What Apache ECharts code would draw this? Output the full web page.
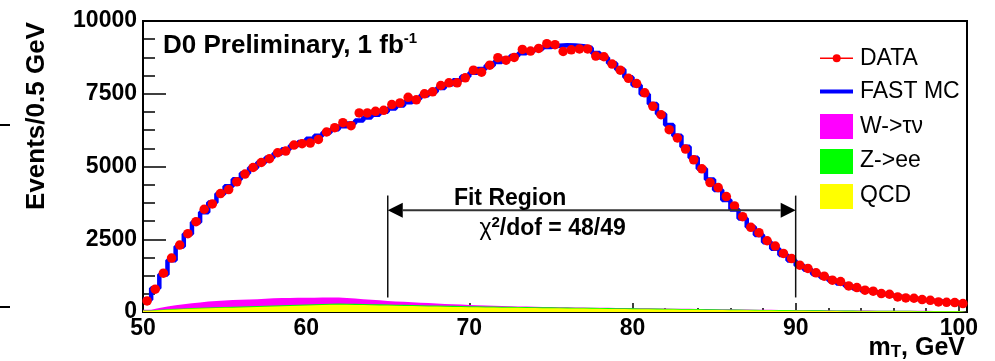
<!DOCTYPE html>
<html>
<head>
<meta charset="utf-8">
<script src="https://cdn.jsdelivr.net/npm/echarts@6/dist/echarts.min.js"></script>
<style>
  html, body { margin: 0; padding: 0; background: #fff; }
  #c { width: 995px; height: 361px; }
</style>
</head>
<body>
<div id="c"></div>
<script>
// Transverse-mass histogram, 0.5 GeV bins from 50 to 100.5 GeV
const binLow = 50;
const binWidth = 0.5;

// Observed events per bin
const dataCounts = [
  379, 783, 1334, 1852, 2300, 2690, 3103, 3531, 3714, 4069,
  4207, 4472, 4738, 4966, 5138, 5266, 5472, 5531, 5738, 5783,
  5807, 5931, 6186, 6334, 6507, 6403, 6841, 6841, 6897, 6931,
  7128, 7186, 7379, 7290, 7497, 7566, 7783, 7876, 7876, 8048,
  8310, 8241, 8483, 8738, 8655, 8748, 9024, 8966, 9059, 9221,
  9185, 8955, 9010, 9040, 9040, 8793, 8772, 8520, 8310, 8030,
  7852, 7531, 7069, 6778, 6266, 5979, 5600, 5231, 4921, 4448,
  4276, 3966, 3645, 3276, 2910, 2724, 2448, 2266, 2014, 1835,
  1610, 1497, 1345, 1231, 1093, 1048, 897, 841, 748, 714,
  634, 610, 517, 483, 472, 428, 403, 345, 334, 324,
  290
];

// Fast simulation prediction per bin
const fastMC = [
  420, 820, 1290, 1780, 2250, 2680, 3080, 3430, 3760, 4060,
  4320, 4560, 4770, 4960, 5140, 5300, 5450, 5590, 5720, 5840,
  5950, 6060, 6170, 6280, 6380, 6480, 6580, 6680, 6780, 6880,
  6990, 7100, 7210, 7330, 7450, 7570, 7700, 7830, 7960, 8090,
  8220, 8350, 8470, 8590, 8700, 8800, 8890, 8970, 9040, 9110,
  9150, 9170, 9160, 9130, 9070, 8900, 8740, 8550, 8330, 8070,
  7790, 7480, 7150, 6800, 6430, 6060, 5680, 5300, 4920, 4550,
  4190, 3850, 3520, 3210, 2920, 2650, 2400, 2170, 1960, 1770,
  1600, 1450, 1310, 1190, 1080, 980, 890, 810, 740, 680,
  620, 570, 525, 485, 450, 415, 385, 360, 335, 315,
  295
];

// Backgrounds (stacked: QCD at the bottom, then Z->ee, then W->tau nu)
const qcd = [
  45, 60, 75, 90, 100, 110, 118, 126, 134, 142,
  150, 158, 166, 174, 182, 190, 198, 206, 214, 222,
  230, 238, 246, 250, 248, 244, 238, 232, 226, 220,
  214, 208, 202, 196, 190, 185, 180, 175, 170, 166,
  162, 158, 154, 150, 146, 142, 138, 134, 131, 128,
  125, 122, 119, 116, 113, 110, 107, 104, 101, 98,
  95, 92, 89, 86, 83, 80, 77, 74, 71, 68,
  65, 62, 59, 56, 53, 50, 48, 46, 44, 42,
  40, 38, 36, 34, 32, 30, 29, 28, 27, 26,
  25, 24, 23, 22, 21, 20, 19, 18, 17, 16,
  15
];
const zee = [
  10, 15, 20, 22, 24, 25, 26, 27, 28, 28,
  29, 30, 30, 31, 32, 32, 33, 34, 35, 35,
  36, 37, 38, 38, 38, 38, 38, 38, 38, 38,
  38, 37, 37, 37, 37, 36, 36, 36, 36, 35,
  35, 35, 34, 34, 34, 33, 33, 33, 32, 32,
  32, 31, 31, 31, 30, 30, 30, 29, 29, 29,
  28, 28, 28, 27, 27, 27, 26, 26, 26, 25,
  25, 25, 24, 24, 24, 23, 23, 23, 22, 22,
  22, 21, 21, 21, 20, 20, 20, 19, 19, 19,
  18, 18, 18, 17, 17, 17, 16, 16, 16, 15,
  15
];
const wTauNu = [
  25, 65, 95, 118, 146, 165, 186, 207, 218, 225,
  231, 232, 234, 235, 241, 248, 249, 245, 239, 233,
  226, 220, 213, 207, 194, 178, 164, 150, 136, 122,
  113, 105, 96, 87, 78, 69, 62, 55, 49, 42,
  35, 29, 25, 21, 18, 16, 14, 12, 11, 10,
  9, 9, 8, 8, 7, 7, 7, 6, 6, 6,
  6, 6, 5, 5, 5, 5, 5, 5, 4, 4,
  4, 4, 4, 4, 4, 4, 3, 3, 3, 3,
  3, 3, 3, 3, 3, 3, 3, 2, 2, 2,
  2, 2, 2, 2, 2, 2, 2, 2, 2, 2,
  2
];

// Axis settings
const xMin = 50, xMax = 100.5, xMajor = 10, xMinor = 2;
const yMin = 0, yMax = 10000, yMajor = 2500;

// Fit window annotation
const fitRange = [65, 90];
const fitLabel = 'Fit Region';
const chi2Text = '48/49';

const legendNames = ['DATA', 'FAST MC', 'W->τν', 'Z->ee', 'QCD'];

const FONT = '"Liberation Sans", Arial, Helvetica, sans-serif';

const n = dataCounts.length;
const edges = Array.from({ length: n + 1 }, (_, i) => binLow + i * binWidth);
const centers = dataCounts.map((_, i) => binLow + (i + 0.5) * binWidth);

// Step outline: one point per lower bin edge plus the closing upper edge
function stepPoints(vals) {
  const pts = vals.map((v, i) => [edges[i], v]);
  pts.push([edges[n], vals[n - 1]]);
  return pts;
}

const cumZee = qcd.map((v, i) => v + zee[i]);
const cumAll = cumZee.map((v, i) => v + wTauNu[i]);

function filledHist(name, vals, color) {
  return {
    type: 'line', name: name, data: stepPoints(vals), step: 'end',
    symbol: 'none', silent: true,
    lineStyle: { width: 0 },
    areaStyle: { color: color, opacity: 1 },
    z: 2
  };
}

const chart = echarts.init(document.getElementById('c'));

const tickStyle = { color: '#000', width: 1.5 };

const option = {
  animation: false,
  backgroundColor: '#fff',
  grid: {
    left: 143, right: 28, top: 21, bottom: 49,
    show: true, borderColor: '#000', borderWidth: 2,
    backgroundColor: 'transparent'
  },
  xAxis: [
    {
      type: 'value', min: xMin, max: xMax, interval: xMajor,
      position: 'bottom',
      axisLine: { lineStyle: { color: '#000', width: 2 } },
      axisTick: { inside: true, length: 9, lineStyle: tickStyle },
      splitLine: { show: false },
      axisLabel: {
        formatter: v => (v % xMajor === 0 && v <= 100) ? String(v) : '',
        color: '#000', fontWeight: 'bold', fontSize: 23, fontFamily: FONT, margin: 5
      }
    },
    {
      type: 'value', min: xMin, max: xMax, interval: xMinor,
      position: 'bottom',
      axisLine: { show: false },
      axisTick: { inside: true, length: 4, lineStyle: tickStyle },
      splitLine: { show: false },
      axisLabel: { show: false }
    }
  ],
  yAxis: {
    type: 'value', min: yMin, max: yMax, interval: yMajor,
    axisLine: { show: true, lineStyle: { color: '#000', width: 2 } },
    axisTick: { show: true, inside: true, length: 23, lineStyle: tickStyle },
    minorTick: { show: true, splitNumber: 4, length: 12, lineStyle: tickStyle },
    splitLine: { show: false },
    axisLabel: {
      formatter: v => String(v),
      color: '#000', fontWeight: 'bold', fontSize: 23, fontFamily: FONT, margin: 6
    }
  },
  series: [
    filledHist(legendNames[2], cumAll, '#ff00ff'),
    filledHist(legendNames[3], cumZee, '#00ff00'),
    filledHist(legendNames[4], qcd, '#ffff00'),
    {
      type: 'line', name: legendNames[1], data: stepPoints(fastMC), step: 'end',
      symbol: 'none', z: 3,
      lineStyle: { color: '#0000ff', width: 4.5 }
    },
    {
      type: 'scatter', name: legendNames[0],
      data: centers.map((x, i) => [x, dataCounts[i]]),
      symbol: 'circle', symbolSize: 9.5, z: 4,
      itemStyle: { color: '#ff0000', opacity: 1 }
    }
  ]
};

chart.setOption(option);

const px = (x, y) => chart.convertToPixel({ seriesIndex: 3 }, [x, y]);

function txt(x, y, text, size, weight, extra) {
  return Object.assign({
    type: 'text', x: x, y: y, z: 10,
    style: {
      text: text, fill: '#000',
      font: (weight || 'normal') + ' ' + size + 'px ' + FONT,
      align: 'left', verticalAlign: 'middle',
      textAlign: 'left', textVerticalAlign: 'middle'
    }
  }, extra || {});
}

// Fit-window markers
const pL0 = px(fitRange[0], 500), pL1 = px(fitRange[0], 4000);
const pR0 = px(fitRange[1], 500), pR1 = px(fitRange[1], 4000);
const aL = px(fitRange[0], 3500), aR = px(fitRange[1], 3500);
const head = 15, halfH = 7.5;
const fitCenter = px(72.5, 3880);
const chiCenter = px(75.1, 2880);

const graphics = [
  // y-axis title
  {
    type: 'text', x: 37, y: 116, rotation: Math.PI / 2, z: 10,
    style: {
      text: 'Events/0.5 GeV', fill: '#000',
      font: 'bold 26px ' + FONT,
      align: 'center', verticalAlign: 'middle',
      textAlign: 'center', textVerticalAlign: 'middle'
    }
  },
  // experiment label
  {
    type: 'text', x: 163, y: 31, z: 10,
    style: {
      text: '{t|D0 Preliminary, 1 fb}{s|-1}',
      align: 'left', verticalAlign: 'top',
      rich: {
        t: { font: 'bold 26px ' + FONT, fill: '#000', lineHeight: 30 },
        s: { font: 'bold 15px ' + FONT, fill: '#000', lineHeight: 15, verticalAlign: 'top' }
      }
    }
  },
  // x-axis title
  {
    type: 'text', x: 965, y: 335, z: 10,
    style: {
      text: '{m|m}{s|T}{m|, GeV}',
      align: 'right', verticalAlign: 'top',
      rich: {
        m: { font: 'bold 25px ' + FONT, fill: '#000', lineHeight: 26 },
        s: { font: 'bold 17px ' + FONT, fill: '#000', lineHeight: 14, verticalAlign: 'bottom' }
      }
    }
  },
  // fit window
  { type: 'line', z: 9, shape: { x1: pL0[0], y1: pL0[1], x2: pL1[0], y2: pL1[1] }, style: { stroke: '#111', lineWidth: 1.5 } },
  { type: 'line', z: 9, shape: { x1: pR0[0], y1: pR0[1], x2: pR1[0], y2: pR1[1] }, style: { stroke: '#111', lineWidth: 1.5 } },
  { type: 'line', z: 9, shape: { x1: aL[0] + head, y1: aL[1], x2: aR[0] - head, y2: aR[1] }, style: { stroke: '#333', lineWidth: 2 } },
  { type: 'polygon', z: 9, shape: { points: [[aL[0], aL[1]], [aL[0] + head, aL[1] - halfH], [aL[0] + head, aL[1] + halfH]] }, style: { fill: '#000' } },
  { type: 'polygon', z: 9, shape: { points: [[aR[0], aR[1]], [aR[0] - head, aR[1] - halfH], [aR[0] - head, aR[1] + halfH]] }, style: { fill: '#000' } },
  {
    type: 'text', x: fitCenter[0], y: fitCenter[1], z: 10,
    style: {
      text: fitLabel, fill: '#000', font: 'bold 23px ' + FONT,
      align: 'center', verticalAlign: 'middle', textAlign: 'center', textVerticalAlign: 'middle'
    }
  },
  {
    type: 'text', x: chiCenter[0], y: chiCenter[1], z: 10,
    style: {
      text: '{c|χ}{s|2}{b|/dof = ' + chi2Text + '}',
      align: 'center', verticalAlign: 'middle',
      rich: {
        c: { font: '23px ' + FONT, fill: '#000', lineHeight: 26 },
        s: { font: 'bold 15px ' + FONT, fill: '#000', lineHeight: 17, verticalAlign: 'top' },
        b: { font: 'bold 23px ' + FONT, fill: '#000', lineHeight: 26 }
      }
    }
  },
  // legend
  { type: 'line', z: 10, shape: { x1: 820, y1: 58.3, x2: 853, y2: 58.3 }, style: { stroke: '#ff0000', lineWidth: 1.5 } },
  { type: 'circle', z: 11, shape: { cx: 836.7, cy: 58.3, r: 4 }, style: { fill: '#ff0000' } },
  { type: 'line', z: 10, shape: { x1: 820, y1: 91.5, x2: 853, y2: 91.5 }, style: { stroke: '#0000ff', lineWidth: 4 } },
  { type: 'rect', z: 10, shape: { x: 820, y: 114, width: 33, height: 25 }, style: { fill: '#ff00ff' } },
  { type: 'rect', z: 10, shape: { x: 820, y: 149, width: 33, height: 25 }, style: { fill: '#00ff00' } },
  { type: 'rect', z: 10, shape: { x: 820, y: 184, width: 33, height: 25 }, style: { fill: '#ffff00' } },
  txt(860, 58.7, legendNames[0], 23),
  txt(860, 91.5, legendNames[1], 23),
  txt(860, 126.5, legendNames[2], 23),
  txt(860, 161, legendNames[3], 23),
  txt(860, 196, legendNames[4], 23),
  // neighbouring panel edge marks
  { type: 'line', z: 10, shape: { x1: 0, y1: 125, x2: 10, y2: 125 }, style: { stroke: '#000', lineWidth: 2 } },
  { type: 'line', z: 10, shape: { x1: 0, y1: 307, x2: 10, y2: 307 }, style: { stroke: '#000', lineWidth: 2 } }
];

chart.setOption({ graphic: { elements: graphics } });
</script>
</body>
</html>
